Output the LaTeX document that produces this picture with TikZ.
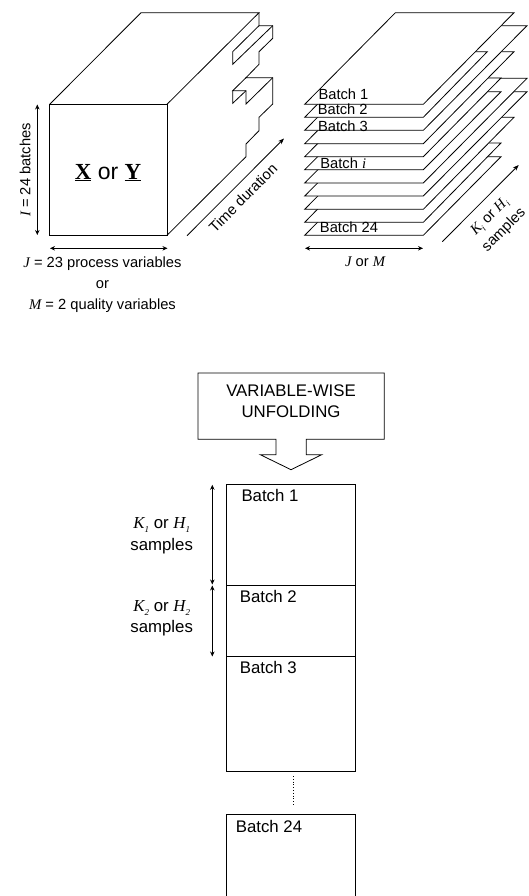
\documentclass[tikz,border=0pt]{standalone}
\usepackage{fontspec}
\setmainfont{Liberation Sans}
\newfontfamily\tms{Liberation Serif}
\usetikzlibrary{arrows.meta}
\newcommand{\vv}[1]{{\tms\itshape #1}}
\newcommand{\vs}[2]{{\tms\itshape #1\raisebox{-0.22em}{\fontsize{9}{9}\selectfont #2}}}
\newcommand{\fsz}[1]{\fontsize{#1}{#1}\selectfont}
\tikzset{
  ln/.style={draw=black,line width=0.8pt,line join=miter},
  dim/.style={ln,{Stealth[length=5pt,width=4.5pt]}-{Stealth[length=5pt,width=4.5pt]}},
  dimone/.style={ln,-{Stealth[length=6pt,width=4.5pt]}},
  txt/.style={inner sep=0pt,font=\fsz{14.7}},
  lbl/.style={inner sep=0pt,font=\fsz{16.8}},
  slice/.style={ln,fill=white}
}
\begin{document}
\begin{tikzpicture}[x=1pt,y=-1pt]
\useasboundingbox (0,0) rectangle (528,896);
% ---- cube
\draw[ln] (49.7,104.3) rectangle (167,235.3);
\draw[ln] (49.7,104.3) -- (141,12.7) -- (259,12.7) -- (167,104.3);
\draw[ln] (259,12.7) -- (259,25.7) -- (272.7,25.7) -- (272.7,38.3) -- (259,51.7) -- (259,64.3)
  -- (246,77.7) -- (272.7,77.7) -- (272.7,104) -- (259,117.3) -- (259,130.7) -- (246,144)
  -- (246,156.7) -- (167,235.3);
\draw[ln] (259,25.7) -- (232.7,51.7) -- (232.7,64.3) -- (272.7,25.7);
\draw[ln] (246,77.7) -- (232.7,90.7) -- (246,90.7) -- (246,104) -- (272.7,77.7);
\draw[ln] (232.7,90.7) -- (232.7,103.3) -- (246,90.7);
\node[inner sep=0pt] (xy) at (108,172.5) {\fsz{23}{\tms\bfseries\underline{X}} or {\tms\bfseries\underline{Y}}};
\coordinate (ia) at (37.3,104.5); \coordinate (ib) at (37.3,235);
\draw[dim] (ia) -- (ib);
\node[txt,rotate=90] (il) at (25,170) {\vv{I} = 24 batches};
\coordinate (ja) at (50,248.3); \coordinate (jb) at (167.5,248.3);
\draw[dim] (ja) -- (jb);
\node[txt] (jl) at (102.5,263.5) {\vv{J} = 23 process variables};
\node[txt] (orl) at (102.5,285) {or};
\node[txt] (ml) at (102.5,306) {\vv{M} = 2 quality variables};
\coordinate (ta) at (187,235.7); \coordinate (tb) at (284,138.5);
\draw[dimone] (ta) -- (tb);
\node[txt,rotate=45] (tl) at (243,198) {Time duration};
% ---- slices, back to front
\foreach \yy/\ex/\ey in {235.3/501/156.7,222.3/501/143,209.3/514/117.3,196/527/91.7,183/527/78.3,169.7/501/91.7,156.7/501/78,143.7/514/51.7,130.3/527/25.7,117.3/487.3/51.7,104.3/514/12.7}{
  \pgfmathsetmacro{\lx}{\ex-118.6}
  \draw[slice] (304.7,\yy) -- (423.3,\yy) -- (\ex,\ey) -- (\lx,\ey) -- cycle;
}
\node[txt] (b1) at (343.5,94.5) {Batch 1};
\node[txt] (b2) at (342.7,109.5) {Batch 2};
\node[txt] (b3) at (343,126) {Batch 3};
\node[txt] (bi) at (343.3,163) {Batch \vv{i}};
\node[txt] (b24) at (349,227.5) {Batch 24};
\coordinate (sa) at (305,248.3); \coordinate (sb) at (423,248.3);
\draw[dim] (sa) -- (sb);
\node[txt] (jm) at (365,261.5) {\vv{J} or \vv{M}};
\coordinate (ka) at (442.3,241.7); \coordinate (kb) at (518.7,165);
\draw[dimone] (ka) -- (kb);
\node[inner sep=0pt,rotate=45,font=\fsz{14.7}] (kl) at (490,217) {\vs{K}{i} or \vs{H}{i}};
\node[inner sep=0pt,rotate=45,font=\fsz{14.7}] (sl) at (504,230) {samples};
% ---- unfolding callout
\draw[ln] (198,373) -- (384.3,373) -- (384.3,439.3) -- (306.3,439.3) -- (306.3,454.7) -- (321.7,454.7)
  -- (291,469.7) -- (260.3,454.7) -- (276,454.7) -- (276,439.3) -- (198,439.3) -- cycle;
\node[lbl] (v1) at (291,391) {VARIABLE-WISE};
\node[lbl] (v2) at (291,412) {UNFOLDING};
% ---- unfolded stack
\draw[ln] (226.3,484.3) rectangle (355.7,771.7);
\draw[ln] (226.3,585) -- (355.7,585);
\draw[ln] (226.3,656.7) -- (355.7,656.7);
\draw[ln] (226.3,900) -- (226.3,814.7) -- (355.7,814.7) -- (355.7,900);
\draw[ln,dotted,line width=1pt] (293,776) -- (293,805);
\node[lbl] at (270,495) {Batch 1};
\node[lbl] at (268.3,596.3) {Batch 2};
\node[lbl] at (268.3,667.7) {Batch 3};
\node[lbl] at (269,826) {Batch 24};
\coordinate (a1) at (212.3,484.8); \coordinate (a2) at (212.3,584.5);
\coordinate (a3) at (212.3,585.5); \coordinate (a4) at (212.3,656.5);
\draw[dim] (a1) -- (a2);
\draw[dim] (a3) -- (a4);
\node[lbl] at (161.7,525) {\vs{K}{1} or \vs{H}{1}};
\node[lbl] at (161.7,545.7) {samples};
\node[lbl] at (161.7,607.7) {\vs{K}{2} or \vs{H}{2}};
\node[lbl] at (161.7,628.3) {samples};
\end{tikzpicture}
\end{document}
